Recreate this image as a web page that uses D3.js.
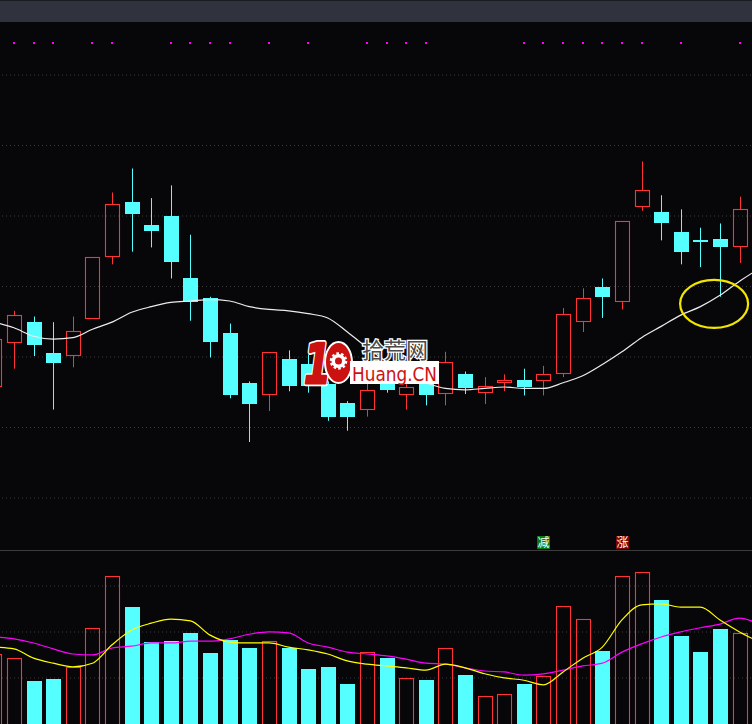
<!DOCTYPE html>
<html>
<head>
<meta charset="utf-8">
<script src="https://cdn.jsdelivr.net/npm/d3@7"></script>
<style>
  html, body { margin: 0; padding: 0; background: #07070a; }
  svg { display: block; }
</style>
</head>
<body>
<div id="chart"></div>
<script>
// day index of the first entry (a candle cut off at the left edge)
var firstDay = -1;

// OHLC, one entry per day from firstDay
var opens  = [10.78, 11.09, 11.24, 11.02, 11.00, 11.26, 11.70, 12.09, 11.93, 11.99, 11.55, 11.41, 11.16, 10.81, 10.72, 10.98, 10.94, 10.80, 10.67, 10.62,
              10.87, 10.72, 10.82, 10.73, 10.87, 10.74, 10.81, 10.83, 10.82, 10.87, 11.24, 11.49, 11.38, 12.06, 12.02, 11.88, 11.82, 11.83, 11.77];
var highs  = [11.14, 11.32, 11.28, 11.24, 11.28, 11.70, 12.16, 12.33, 12.12, 12.21, 11.86, 11.42, 11.23, 10.82, 11.03, 11.04, 11.01, 10.82, 10.68, 10.83,
              10.96, 10.80, 10.84, 11.03, 10.89, 10.85, 10.87, 10.91, 10.93, 11.34, 11.48, 11.55, 11.96, 12.38, 12.14, 12.04, 11.91, 11.94, 12.13];
var lows   = [10.75, 10.91, 11.00, 10.62, 10.92, 11.26, 11.65, 11.74, 11.77, 11.55, 11.25, 10.99, 10.70, 10.39, 10.61, 10.75, 10.74, 10.54, 10.47, 10.57,
              10.74, 10.62, 10.65, 10.65, 10.73, 10.66, 10.75, 10.72, 10.72, 10.85, 11.17, 11.27, 11.33, 12.03, 11.82, 11.65, 11.63, 11.42, 11.66];
var closes = [11.12, 11.29, 11.08, 10.95, 11.18, 11.70, 12.08, 12.01, 11.89, 11.67, 11.38, 11.10, 10.72, 10.66, 11.03, 10.79, 10.79, 10.57, 10.57, 10.76,
              10.76, 10.78, 10.72, 10.96, 10.77, 10.79, 10.82, 10.78, 10.87, 11.30, 11.41, 11.42, 11.96, 12.18, 11.94, 11.74, 11.81, 11.77, 12.04];
// volume (万手)
var volumes = [15.0, 14.1, 9.1, 9.6, 12.2, 20.7, 32.0, 25.2, 17.6, 17.8, 19.6, 15.2, 18.0, 16.3, 17.8, 16.3, 11.7, 12.2, 8.5, 15.4,
               14.1, 9.8, 9.3, 16.3, 10.4, 5.9, 6.3, 8.5, 10.2, 25.4, 22.6, 15.7, 32.0, 32.8, 26.7, 18.9, 15.4, 20.4, 19.6];

// moving averages, one more entry than the candles (runs off the right edge)
var priceMa = [11.24, 11.20, 11.14, 11.12, 11.13, 11.19, 11.24, 11.31, 11.35, 11.38, 11.39, 11.40, 11.39, 11.35, 11.33, 11.32, 11.30, 11.27, 11.17, 11.06,
               10.96, 10.87, 10.81, 10.77, 10.76, 10.77, 10.78, 10.77, 10.77, 10.81, 10.86, 10.94, 11.03, 11.13, 11.21, 11.29, 11.35, 11.43, 11.53, 11.62];
var volMaShort = [16.5, 16.1, 14.1, 13.0, 12.2, 13.0, 17.0, 20.2, 21.7, 22.6, 22.2, 19.1, 17.6, 17.4, 17.4, 16.5, 15.9, 15.0, 13.5, 12.8,
                  12.4, 12.0, 11.5, 12.8, 12.0, 10.7, 9.8, 9.3, 8.3, 11.1, 14.1, 16.5, 22.4, 25.7, 25.9, 25.2, 25.2, 22.4, 19.8, 17.6];
var volMaLong = [18.7, 18.3, 17.4, 16.1, 15.0, 14.8, 16.3, 16.7, 17.4, 17.4, 17.8, 17.8, 18.3, 19.3, 19.8, 19.6, 17.4, 16.5, 15.4, 15.0,
                 14.6, 13.9, 13.0, 12.8, 12.0, 11.3, 11.1, 10.4, 10.7, 11.5, 12.4, 13.0, 15.4, 17.2, 18.7, 19.8, 20.7, 21.5, 22.8, 21.5];

// days carrying a marker dot on the top row
var markDays = [0, 1, 2, 4, 5, 8, 9, 10, 11, 13, 15, 18, 19, 20, 21, 26, 27, 28, 29, 30, 31, 32, 34, 37];
var signals = [
  { day: 27, text: "减", up: false },
  { day: 31, text: "涨", up: true }
];
var priceTicks = [10, 10.5, 11, 11.5, 12, 12.5, 13];
var volTicks = [10, 20, 30];
var circled = { day: 35.7, price: 11.37 };

var width = 752;
var height = 724;
var RED = "#ff3333";
var CYAN = "#55ffff";

var svg = d3.select("#chart").append("svg")
    .attr("width", width)
    .attr("height", height);

svg.append("rect").attr("width", width).attr("height", height).attr("fill", "#07070a");

// title strip
svg.append("rect").attr("x", 0).attr("y", 0).attr("width", width).attr("height", 22).attr("fill", "#30323e");
svg.append("rect").attr("x", 0).attr("y", 0).attr("width", width).attr("height", 1).attr("fill", "#1b1c22");

var x = d3.scaleLinear().domain([0, 37]).range([14, 739.6]);
var y = d3.scaleLinear().domain([10, 13]).range([497, 74]);
var yv = d3.scaleLinear().domain([0, 30]).range([723, 585]);

var defs = svg.append("defs");
defs.append("clipPath").attr("id", "clipPrice")
  .append("rect").attr("x", 0).attr("y", 23).attr("width", width).attr("height", 526);
defs.append("clipPath").attr("id", "clipVol")
  .append("rect").attr("x", 0).attr("y", 551).attr("width", width).attr("height", 173);

// dotted grid from the axes
function grid(scale, ticks) {
  var g = svg.append("g")
    .attr("transform", "translate(2,0.5)")
    .call(d3.axisRight(scale).tickValues(ticks).tickSize(width).tickFormat(""));
  g.select(".domain").remove();
  g.selectAll(".tick line")
    .attr("stroke", "#3a3a3a")
    .attr("stroke-dasharray", "1,3");
  return g;
}
grid(y, priceTicks);
grid(yv, volTicks);

// panel divider
svg.append("line")
  .attr("x1", 0).attr("x2", width)
  .attr("y1", 550.5).attr("y2", 550.5)
  .attr("stroke", "#3c3c3c");

// marker dots
svg.append("g").selectAll("rect")
  .data(markDays)
  .enter().append("rect")
  .attr("x", function(d) { return Math.round(x(d)) - 1; })
  .attr("y", 42)
  .attr("width", 2).attr("height", 2)
  .attr("fill", "#ff00ff");

var candles = opens.map(function(o, i) {
  return { day: firstDay + i, o: o, h: highs[i], l: lows[i], c: closes[i], v: volumes[i], up: closes[i] >= o };
});

// candles
var pg = svg.append("g").attr("clip-path", "url(#clipPrice)");

candles.forEach(function(d) {
  var cx = Math.round(x(d.day));
  var top = Math.round(y(Math.max(d.o, d.c)));
  var bot = Math.round(y(Math.min(d.o, d.c)));
  if (d.up) {
    if (bot - top < 3) { top = top - 1; bot = top + 3; }
    if (y(d.h) < top - 0.5) {
      pg.append("line").attr("x1", cx + 0.5).attr("x2", cx + 0.5)
        .attr("y1", y(d.h)).attr("y2", top).attr("stroke", RED);
    }
    if (y(d.l) > bot + 0.5) {
      pg.append("line").attr("x1", cx + 0.5).attr("x2", cx + 0.5)
        .attr("y1", bot).attr("y2", y(d.l)).attr("stroke", RED);
    }
    pg.append("rect")
      .attr("x", cx - 6.5).attr("y", top + 0.5)
      .attr("width", 14).attr("height", bot - top - 1)
      .attr("fill", "none").attr("stroke", RED).attr("stroke-width", 1.1);
  } else {
    pg.append("line").attr("x1", cx + 0.5).attr("x2", cx + 0.5)
      .attr("y1", y(d.h)).attr("y2", y(d.l)).attr("stroke", CYAN);
    pg.append("rect")
      .attr("x", cx - 7).attr("y", top)
      .attr("width", 15).attr("height", Math.max(2, bot - top))
      .attr("fill", CYAN);
  }
});

var maLine = d3.line()
  .x(function(d, i) { return x(firstDay + i); })
  .y(function(d) { return y(d); })
  .curve(d3.curveMonotoneX);

pg.append("path")
  .attr("d", maLine(priceMa))
  .attr("fill", "none")
  .attr("stroke", "#ececec")
  .attr("stroke-width", 1.2);

// highlight ring
svg.append("ellipse")
  .attr("cx", x(circled.day))
  .attr("cy", y(circled.price))
  .attr("rx", 34).attr("ry", 24)
  .attr("fill", "none")
  .attr("stroke", "#f2e600")
  .attr("stroke-width", 2.2);

// volume bars
var vg = svg.append("g").attr("clip-path", "url(#clipVol)");

vg.selectAll("rect.vol")
  .data(candles)
  .enter().append("rect")
  .attr("class", "vol")
  .attr("x", function(d) { return Math.round(x(d.day)) - (d.up ? 6.5 : 7); })
  .attr("y", function(d) { return Math.round(yv(d.v)) + (d.up ? 0.5 : 0); })
  .attr("width", function(d) { return d.up ? 14 : 15; })
  .attr("height", function(d) { return Math.round(yv(0) - yv(d.v)) + 2; })
  .attr("fill", function(d) { return d.up ? "none" : CYAN; })
  .attr("stroke", function(d) { return d.up ? RED : "none"; })
  .attr("stroke-width", 1.1);

var volLine = d3.line()
  .x(function(d, i) { return x(firstDay + i); })
  .y(function(d) { return yv(d); })
  .curve(d3.curveMonotoneX);

vg.append("path").attr("d", volLine(volMaLong))
  .attr("fill", "none").attr("stroke", "#ff00ff").attr("stroke-width", 1.2);
vg.append("path").attr("d", volLine(volMaShort))
  .attr("fill", "none").attr("stroke", "#ffff00").attr("stroke-width", 1.2);

// signal tags above the divider
var sig = svg.append("g").selectAll("g")
  .data(signals)
  .enter().append("g")
  .attr("transform", function(d) { return "translate(" + (Math.round(x(d.day)) - 6) + ",536)"; });
sig.append("rect")
  .attr("width", 13).attr("height", 13)
  .attr("fill", function(d) { return d.up ? "#7a0606" : "#0a7a0a"; });
sig.append("text")
  .attr("x", 6.5).attr("y", 11)
  .attr("text-anchor", "middle")
  .attr("font-family", "Noto Sans CJK SC")
  .attr("font-size", 12)
  .attr("fill", "#ffffff")
  .text(function(d) { return d.text; });

// site watermark
var wm = svg.append("g");
function one(stroke, sw) {
  wm.append("text")
    .attr("x", 304).attr("y", 383)
    .attr("font-family", "DejaVu Sans")
    .attr("font-weight", "bold")
    .attr("font-style", "italic")
    .attr("font-size", 56)
    .attr("fill", "#cc1111")
    .attr("stroke", stroke)
    .attr("stroke-width", sw)
    .attr("stroke-linejoin", "round")
    .attr("textLength", 27)
    .attr("lengthAdjust", "spacingAndGlyphs")
    .text("1");
}
one("#ffffff", 6);
one("#cc1111", 2.5);
wm.append("ellipse")
  .attr("cx", 338.5).attr("cy", 362.5)
  .attr("rx", 13.5).attr("ry", 20.5)
  .attr("fill", "#cc1111")
  .attr("stroke", "#ffffff").attr("stroke-width", 2);
wm.append("circle")
  .attr("cx", 338.5).attr("cy", 361).attr("r", 7)
  .attr("fill", "#ffffff")
  .attr("stroke", "#ffffff").attr("stroke-width", 3.5)
  .attr("stroke-dasharray", "2.4,2");
wm.append("circle")
  .attr("cx", 338.5).attr("cy", 361).attr("r", 3.5)
  .attr("fill", "#cc1111");

wm.append("rect")
  .attr("x", 350).attr("y", 361)
  .attr("width", 89).attr("height", 23)
  .attr("fill", "#ffffff");
wm.append("text")
  .attr("x", 352).attr("y", 381)
  .attr("font-family", "DejaVu Sans")
  .attr("font-size", 20)
  .attr("fill", "#d01010")
  .attr("textLength", 85)
  .attr("lengthAdjust", "spacingAndGlyphs")
  .text("Huang.CN");
wm.append("text")
  .attr("x", 362).attr("y", 358)
  .attr("font-family", "Noto Sans CJK SC")
  .attr("font-size", 22)
  .attr("fill", "#4a4a4a")
  .attr("stroke", "#ffffff")
  .attr("stroke-width", 2.5)
  .attr("paint-order", "stroke")
  .text("拾荒网");
</script>
</body>
</html>
